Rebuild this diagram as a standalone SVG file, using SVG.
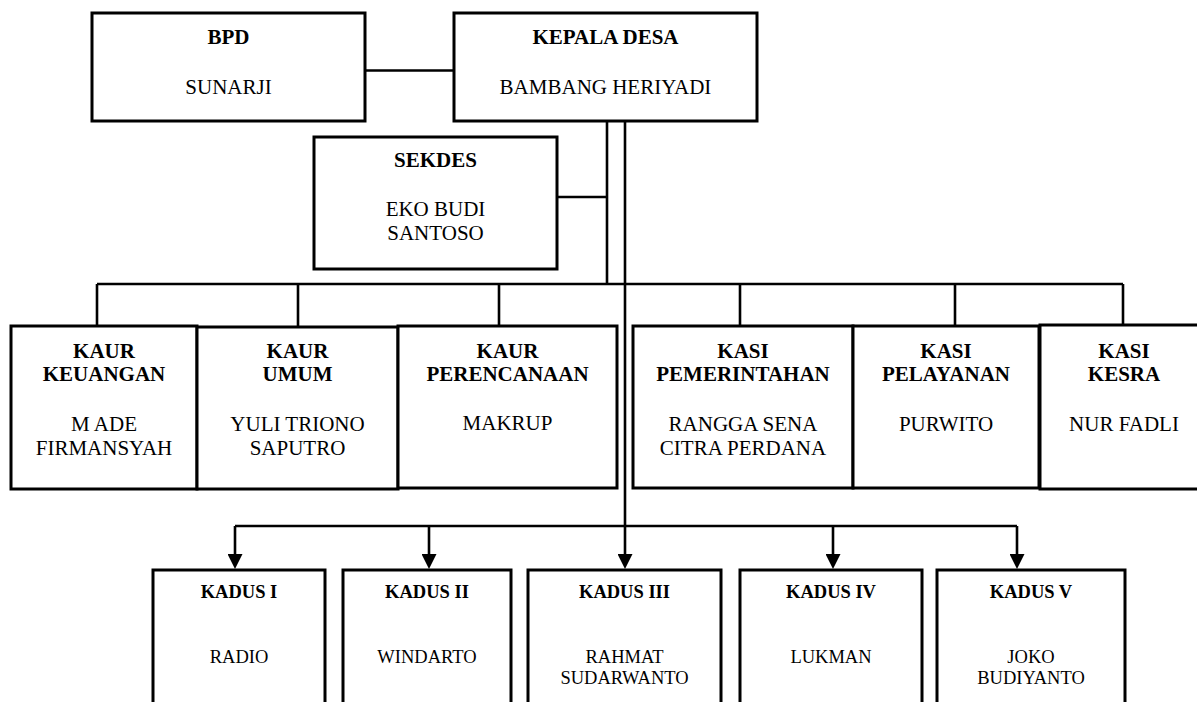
<svg xmlns="http://www.w3.org/2000/svg" width="1197" height="702" viewBox="0 0 1197 702">
<style>
.box{fill:#fff;stroke:#000;stroke-width:3}
.ln{fill:none;stroke:#000;stroke-width:2.6}
text{font-family:"Liberation Serif","Times New Roman",serif;fill:#000;text-anchor:middle}
.t{font-size:21px;font-weight:bold}
.n{font-size:21px}
.kt{font-size:18.5px;font-weight:bold}
.kn{font-size:18.5px}
</style>
<defs>
<marker id="arr" viewBox="0 0 15 15" refX="0" refY="7.5" markerWidth="15" markerHeight="15" markerUnits="userSpaceOnUse" orient="auto">
<path d="M0,0 L15,7.5 L0,15 z" fill="#000"/>
</marker>
</defs>
<g id="connectors">
<line class="ln" x1="365" y1="70.5" x2="454" y2="70.5"/>
<line class="ln" x1="607" y1="121" x2="607" y2="284"/>
<line class="ln" x1="557" y1="197" x2="607" y2="197"/>
<line class="ln" x1="625" y1="121" x2="625" y2="554" marker-end="url(#arr)"/>
<line class="ln" x1="97" y1="284" x2="1123" y2="284"/>
<line class="ln" x1="97" y1="284" x2="97" y2="326"/>
<line class="ln" x1="298" y1="284" x2="298" y2="326"/>
<line class="ln" x1="499" y1="284" x2="499" y2="326"/>
<line class="ln" x1="740" y1="284" x2="740" y2="326"/>
<line class="ln" x1="955" y1="284" x2="955" y2="326"/>
<line class="ln" x1="1123" y1="284" x2="1123" y2="326"/>
<line class="ln" x1="235" y1="526" x2="1017" y2="526"/>
<line class="ln" x1="235" y1="526" x2="235" y2="554" marker-end="url(#arr)"/>
<line class="ln" x1="429" y1="526" x2="429" y2="554" marker-end="url(#arr)"/>
<line class="ln" x1="833" y1="526" x2="833" y2="554" marker-end="url(#arr)"/>
<line class="ln" x1="1017" y1="526" x2="1017" y2="554" marker-end="url(#arr)"/>
</g>
<g id="bpd">
<rect class="box" x="92" y="13" width="273" height="108"/>
<text class="t" x="228.5" y="44">BPD</text>
<text class="n" x="228.5" y="94">SUNARJI</text>
</g>
<g id="kepala-desa">
<rect class="box" x="454" y="13" width="303" height="108"/>
<text class="t" x="605.5" y="44">KEPALA DESA</text>
<text class="n" x="605.5" y="94">BAMBANG HERIYADI</text>
</g>
<g id="sekdes">
<rect class="box" x="314" y="137" width="243" height="132"/>
<text class="t" x="435.5" y="167">SEKDES</text>
<text class="n" x="435.5" y="216">EKO BUDI</text>
<text class="n" x="435.5" y="240">SANTOSO</text>
</g>
<g id="kaur-keuangan">
<rect class="box" x="11" y="326" width="186" height="163"/>
<text class="t" x="104" y="358">KAUR</text>
<text class="t" x="104" y="381">KEUANGAN</text>
<text class="n" x="104" y="431">M ADE</text>
<text class="n" x="104" y="455">FIRMANSYAH</text>
</g>
<g id="kaur-umum">
<rect class="box" x="197" y="327" width="201" height="162"/>
<text class="t" x="297.5" y="358">KAUR</text>
<text class="t" x="297.5" y="381">UMUM</text>
<text class="n" x="297.5" y="431">YULI TRIONO</text>
<text class="n" x="297.5" y="455">SAPUTRO</text>
</g>
<g id="kaur-perencanaan">
<rect class="box" x="398" y="326" width="219" height="162"/>
<text class="t" x="507.5" y="358">KAUR</text>
<text class="t" x="507.5" y="381">PERENCANAAN</text>
<text class="n" x="507.5" y="430">MAKRUP</text>
</g>
<g id="kasi-pemerintahan">
<rect class="box" x="633" y="326" width="220" height="162"/>
<text class="t" x="743" y="358">KASI</text>
<text class="t" x="743" y="381">PEMERINTAHAN</text>
<text class="n" x="743" y="431">RANGGA SENA</text>
<text class="n" x="743" y="455">CITRA PERDANA</text>
</g>
<g id="kasi-pelayanan">
<rect class="box" x="853" y="326" width="186" height="162"/>
<text class="t" x="946" y="358">KASI</text>
<text class="t" x="946" y="381">PELAYANAN</text>
<text class="n" x="946" y="431">PURWITO</text>
</g>
<g id="kasi-kesra">
<rect class="box" x="1040" y="325" width="170" height="164"/>
<text class="t" x="1124" y="358">KASI</text>
<text class="t" x="1124" y="381">KESRA</text>
<text class="n" x="1124" y="431">NUR FADLI</text>
</g>
<g id="kadus-1">
<rect class="box" x="153" y="570" width="172" height="150"/>
<text class="kt" x="239" y="598">KADUS I</text>
<text class="kn" x="239" y="663">RADIO</text>
</g>
<g id="kadus-2">
<rect class="box" x="343" y="570" width="168" height="150"/>
<text class="kt" x="427" y="598">KADUS II</text>
<text class="kn" x="427" y="663">WINDARTO</text>
</g>
<g id="kadus-3">
<rect class="box" x="528" y="570" width="193" height="150"/>
<text class="kt" x="624.5" y="598">KADUS III</text>
<text class="kn" x="624.5" y="663">RAHMAT</text>
<text class="kn" x="624.5" y="684">SUDARWANTO</text>
</g>
<g id="kadus-4">
<rect class="box" x="740" y="570" width="182" height="150"/>
<text class="kt" x="831" y="598">KADUS IV</text>
<text class="kn" x="831" y="663">LUKMAN</text>
</g>
<g id="kadus-5">
<rect class="box" x="937" y="570" width="188" height="150"/>
<text class="kt" x="1031" y="598">KADUS V</text>
<text class="kn" x="1031" y="663">JOKO</text>
<text class="kn" x="1031" y="684">BUDIYANTO</text>
</g>
</svg>
